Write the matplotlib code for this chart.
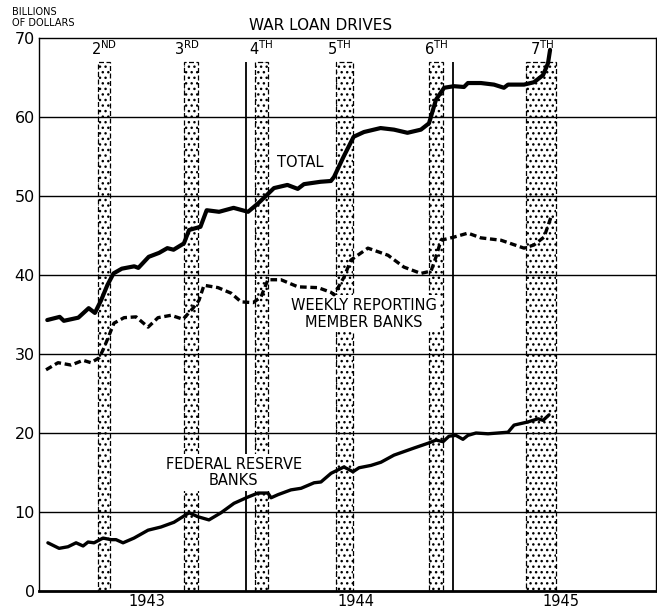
import matplotlib
matplotlib.use("Agg")
import matplotlib.pyplot as plt
from matplotlib.patches import Rectangle

# time in decimal years, values in billions of dollars
total_t = [1943.04, 1943.10, 1943.12, 1943.19, 1943.24, 1943.27, 1943.30, 1943.33, 1943.36,
           1943.40, 1943.46, 1943.48, 1943.53, 1943.58, 1943.62, 1943.65, 1943.70, 1943.725,
           1943.78, 1943.81, 1943.87, 1943.94, 1944.01, 1944.06, 1944.135, 1944.20, 1944.25,
           1944.28, 1944.36, 1944.41, 1944.425, 1944.47, 1944.52, 1944.57, 1944.65, 1944.715,
           1944.78, 1944.845, 1944.884, 1944.918, 1944.957, 1945.005, 1945.053, 1945.072,
           1945.135, 1945.198, 1945.246, 1945.266, 1945.343, 1945.391, 1945.435, 1945.459,
           1945.469]
total_v = [34.3, 34.7, 34.2, 34.6, 35.8, 35.2, 36.8, 38.7, 40.2,
           40.8, 41.1, 40.9, 42.3, 42.8, 43.4, 43.2, 44.0, 45.7,
           46.1, 48.2, 48.0, 48.5, 48.0, 49.1, 51.0, 51.4, 50.9,
           51.5, 51.8, 51.9, 52.4, 54.9, 57.5, 58.1, 58.6, 58.4,
           58.0, 58.4, 59.2, 62.2, 63.7, 63.9, 63.8, 64.3,
           64.3, 64.1, 63.7, 64.1, 64.1, 64.4, 65.3, 66.8,
           68.5]

weekly_t = [1943.034, 1943.092, 1943.155, 1943.213, 1943.251, 1943.290, 1943.309, 1943.333,
            1943.362, 1943.411, 1943.469, 1943.527, 1943.575, 1943.638, 1943.696, 1943.744,
            1943.773, 1943.797, 1943.865, 1943.928, 1943.976, 1944.034, 1944.072, 1944.106,
            1944.169, 1944.251, 1944.348, 1944.411, 1944.425, 1944.473, 1944.507, 1944.589,
            1944.686, 1944.763, 1944.845, 1944.894, 1944.918, 1944.942, 1945.005, 1945.072,
            1945.135, 1945.232, 1945.343, 1945.391, 1945.440, 1945.473]
weekly_v = [28.0, 28.9, 28.6, 29.2, 28.9, 29.5, 30.5, 32.0,
            33.9, 34.6, 34.7, 33.4, 34.6, 34.9, 34.4, 35.8,
            36.8, 38.7, 38.4, 37.7, 36.6, 36.5, 37.2, 39.4,
            39.4, 38.5, 38.4, 37.8, 37.5, 39.7, 41.9, 43.4,
            42.5, 41.0, 40.2, 40.5, 42.3, 44.4, 44.8, 45.3,
            44.7, 44.4, 43.4, 43.8, 44.8, 47.3]

fed_t = [1943.043, 1943.097, 1943.140, 1943.179, 1943.213, 1943.237, 1943.266, 1943.309,
         1943.348, 1943.372, 1943.406, 1943.459, 1943.527, 1943.589, 1943.652, 1943.725,
         1943.768, 1943.821, 1943.879, 1943.942, 1944.010, 1944.058, 1944.106, 1944.121,
         1944.155, 1944.217, 1944.266, 1944.329, 1944.362, 1944.411, 1944.473, 1944.517,
         1944.546, 1944.604, 1944.652, 1944.715, 1944.812, 1944.879, 1944.918, 1944.952,
         1944.981, 1945.014, 1945.048, 1945.072, 1945.111, 1945.169, 1945.266, 1945.295,
         1945.362, 1945.411, 1945.435, 1945.464]
fed_v = [6.1, 5.4, 5.6, 6.1, 5.7, 6.2, 6.1, 6.7,
         6.5, 6.5, 6.1, 6.7, 7.7, 8.1, 8.7, 9.9,
         9.4, 9.0, 9.9, 11.1, 11.9, 12.4, 12.4, 11.8,
         12.2, 12.8, 13.0, 13.7, 13.8, 14.9, 15.7, 15.1,
         15.6, 15.9, 16.3, 17.2, 18.1, 18.7, 19.1, 18.9,
         19.6, 19.7, 19.2, 19.7, 20.0, 19.9, 20.1, 21.0,
         21.4, 21.8, 21.6, 22.3]

# war loan drives (start, end) and labels
drive_names = ["2", "3", "4", "5", "6", "7"]
drive_sfx = ["ND", "RD", "TH", "TH", "TH", "TH"]
drive_start = [1943.285, 1943.700, 1944.043, 1944.435, 1944.884, 1945.353]
drive_end = [1943.343, 1943.768, 1944.106, 1944.517, 1944.952, 1945.498]
drive_label_x = [1943.314, 1943.715, 1944.072, 1944.452, 1944.920, 1945.430]
year_lines = [1944.0, 1945.0]
year_ticks = [1943.52, 1944.53, 1945.52]
year_labels = ["1943", "1944", "1945"]

plt.rcParams["hatch.linewidth"] = 1.0

fig = plt.figure(figsize=(6.57, 6.11), dpi=100)
ax = fig.add_axes([39 / 657, 20 / 611, 617 / 657, 553 / 611])
ax.set_xlim(1943.0, 1943.0 + 617 / 207)
ax.set_ylim(0, 70)

band_top = 67
for s, e in zip(drive_start, drive_end):
    ax.add_patch(Rectangle((s, 0), e - s, band_top, facecolor="white", edgecolor="black",
                           hatch="...", linewidth=0, zorder=1))
    ax.add_patch(Rectangle((s, 0), e - s, band_top, fill=False, edgecolor="black",
                           linewidth=0.9, linestyle=(0, (4, 2)), zorder=1.5))

for y in range(10, 70, 10):
    ax.axhline(y, color="black", linewidth=1.0, zorder=2)
ax.vlines(year_lines, 0, band_top, color="black", linewidth=1.3, zorder=2)

for n, sfx, x in zip(drive_names, drive_sfx, drive_label_x):
    ax.text(x, 68.6, n + r"$^{\mathrm{" + sfx + "}}$", ha="center", va="center",
            fontsize=10.5, zorder=3)

box = dict(facecolor="white", edgecolor="none", pad=2)
ax.text(1944.26, 54.2, "TOTAL", ha="center", va="center", fontsize=10.5, zorder=3, bbox=box)
ax.text(1944.57, 35.1, "WEEKLY REPORTING\nMEMBER BANKS", ha="center", va="center",
        fontsize=10.5, linespacing=1.15, zorder=3, bbox=box)
ax.text(1943.94, 15.0, "FEDERAL RESERVE\nBANKS", ha="center", va="center",
        fontsize=10.5, linespacing=1.15, zorder=3, bbox=box)

ax.plot(total_t, total_v, color="black", linewidth=3.0, solid_capstyle="round",
        solid_joinstyle="round", zorder=5)
ax.plot(weekly_t, weekly_v, color="black", linewidth=2.4, linestyle=(0, (2, 1.1)), zorder=5)
ax.plot(fed_t, fed_v, color="black", linewidth=2.4, solid_capstyle="round",
        solid_joinstyle="round", zorder=5)

ax.set_yticks(range(0, 71, 10))
ax.set_xticks(year_ticks)
ax.set_xticklabels(year_labels)
ax.tick_params(axis="y", length=0, labelsize=11.5, pad=3)
ax.tick_params(axis="x", length=0, labelsize=10.5, pad=2)
for side in ["top", "right", "left"]:
    ax.spines[side].set_linewidth(1.0)
ax.spines["bottom"].set_linewidth(2.0)

fig.text(12 / 657, 1 - 7 / 611, "BILLIONS\nOF DOLLARS", ha="left", va="top",
         fontsize=7, linespacing=1.1)
fig.text(321 / 657, 1 - 25 / 611, "WAR LOAN DRIVES", ha="center", va="center", fontsize=11)

fig.savefig("out.png", dpi=100)
